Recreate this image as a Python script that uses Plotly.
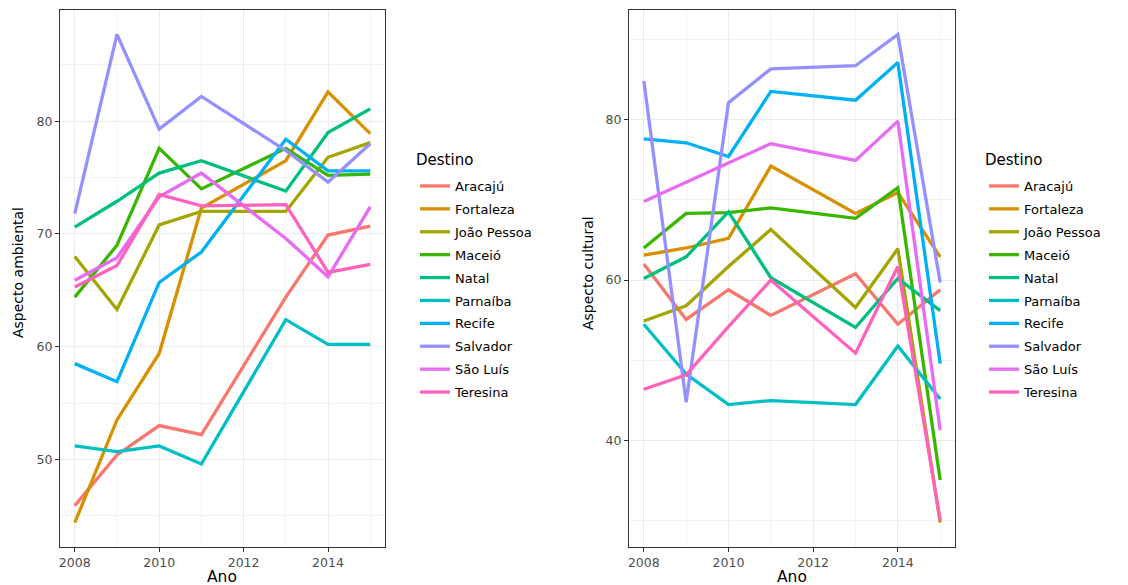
import plotly.graph_objects as go

years = [2008, 2009, 2010, 2011, 2013, 2014, 2015]
destinos = ["Aracajú", "Fortaleza", "João Pessoa", "Maceió", "Natal",
            "Parnaíba", "Recife", "Salvador", "São Luís", "Teresina"]
colors = ["#F8766D", "#D89000", "#A3A500", "#39B600", "#00BF7D",
          "#00BFC4", "#00B0F6", "#9590FF", "#E76BF3", "#FF62BC"]

ambiental_aracaju = [45.9, 50.4, 53.0, 52.2, 64.4, 69.9, 70.7]
ambiental_fortaleza = [44.4, 53.5, 59.4, 72.3, 76.5, 82.6, 78.9]
ambiental_joao_pessoa = [68.0, 63.3, 70.8, 72.0, 72.0, 76.8, 78.1]
ambiental_maceio = [64.4, 69.0, 77.6, 74.0, 77.6, 75.2, 75.3]
ambiental_natal = [70.6, 72.9, 75.4, 76.5, 73.8, 79.0, 81.1]
ambiental_parnaiba = [51.2, 50.7, 51.2, 49.6, 62.4, 60.2, 60.2]
ambiental_recife = [58.5, 56.9, 65.7, 68.4, 78.4, 75.6, 75.6]
ambiental_salvador = [71.8, 87.7, 79.3, 82.2, 77.4, 74.6, 78.0]
ambiental_sao_luis = [65.9, 67.9, 73.3, 75.4, 69.6, 66.2, 72.4]
ambiental_teresina = [65.3, 67.2, 73.5, 72.5, 72.6, 66.6, 67.3]

cultural_aracaju = [62.0, 55.1, 58.8, 55.6, 60.8, 54.5, 58.8]
cultural_fortaleza = [63.1, 64.0, 65.2, 74.2, 68.3, 70.9, 62.9]
cultural_joao_pessoa = [54.9, 56.8, 61.7, 66.3, 56.6, 63.9, 29.8]
cultural_maceio = [64.0, 68.3, 68.4, 69.0, 67.7, 71.5, 35.1]
cultural_natal = [60.2, 62.9, 68.5, 60.3, 54.1, 60.2, 56.2]
cultural_parnaiba = [54.5, 48.3, 44.5, 45.0, 44.5, 51.8, 45.2]
cultural_recife = [77.6, 77.1, 75.4, 83.5, 82.4, 87.1, 49.6]
cultural_salvador = [84.8, 44.8, 82.1, 86.3, 86.7, 90.6, 59.7]
cultural_sao_luis = [69.8, 72.2, 74.6, 77.0, 74.9, 79.8, 41.3]
cultural_teresina = [46.4, 48.2, 54.2, 60.0, 50.9, 61.7, 30.1]

ambiental = [ambiental_aracaju, ambiental_fortaleza, ambiental_joao_pessoa,
             ambiental_maceio, ambiental_natal, ambiental_parnaiba,
             ambiental_recife, ambiental_salvador, ambiental_sao_luis,
             ambiental_teresina]
cultural = [cultural_aracaju, cultural_fortaleza, cultural_joao_pessoa,
            cultural_maceio, cultural_natal, cultural_parnaiba,
            cultural_recife, cultural_salvador, cultural_sao_luis,
            cultural_teresina]

x_major = [2008, 2010, 2012, 2014]
x_minor = [2009, 2011, 2013, 2015]
amb_major = [50, 60, 70, 80]
amb_minor = [45, 55, 65, 75, 85]
cul_major = [40, 60, 80]
cul_minor = [30, 50, 70, 90]

W, H = 1128, 585
FONT = "DejaVu Sans, Liberation Sans, Arial, sans-serif"
LW = 3.3

fig = go.Figure()
for name, col, ya, yc in zip(destinos, colors, ambiental, cultural):
    fig.add_trace(go.Scatter(x=years, y=ya, mode="lines", name=name,
                             line=dict(color=col, width=LW),
                             xaxis="x", yaxis="y", legend="legend",
                             legendgroup="a_" + name))
    fig.add_trace(go.Scatter(x=years, y=yc, mode="lines", name=name,
                             line=dict(color=col, width=LW),
                             xaxis="x2", yaxis="y2", legend="legend2",
                             legendgroup="c_" + name))


def rng(series):
    lo = min(min(s) for s in series)
    hi = max(max(s) for s in series)
    pad = (hi - lo) * 0.05
    return [lo - pad, hi + pad]


span = years[-1] - years[0]
xr = [years[0] - span * 0.05, years[-1] + span * 0.05]


def px_x(p):
    return p / W


def px_y(p):
    return 1 - p / H


axis_style = dict(
    showline=True, mirror=True, linecolor="#333333", linewidth=1.2,
    showgrid=True, gridcolor="#EBEBEB", gridwidth=1,
    ticks="outside", ticklen=4, tickcolor="#333333", tickwidth=1,
    tickfont=dict(family=FONT, size=12.5, color="#4D4D4D"),
    zeroline=False, automargin=False,
)


def minor(vals):
    return dict(showgrid=True, gridcolor="#F3F3F3", gridwidth=0.6,
                tickvals=vals, ticks="")


def legend_cfg(xpx):
    return dict(x=px_x(xpx), y=px_y(171), xanchor="left", yanchor="top",
                font=dict(family=FONT, size=13, color="black"),
                traceorder="grouped", tracegroupgap=3, itemwidth=30,
                bgcolor="rgba(0,0,0,0)")


def label(text, xpx, ypx, size, angle=0, xanchor="center"):
    return dict(text=text, x=px_x(xpx), y=px_y(ypx), xref="paper", yref="paper",
                xanchor=xanchor, yanchor="middle", showarrow=False, textangle=angle,
                font=dict(family=FONT, size=size, color="black"))


ydom = [px_y(547), px_y(10)]
fig.update_layout(
    width=W, height=H,
    margin=dict(l=0, r=0, t=0, b=0),
    paper_bgcolor="white", plot_bgcolor="white",
    font=dict(family=FONT, color="black"),
    xaxis=dict(domain=[px_x(60), px_x(385)], range=xr, tickvals=x_major,
               minor=minor(x_minor), anchor="y", **axis_style),
    yaxis=dict(domain=ydom, range=rng(ambiental), tickvals=amb_major,
               minor=minor(amb_minor), anchor="x", **axis_style),
    xaxis2=dict(domain=[px_x(629), px_x(955)], range=xr, tickvals=x_major,
                minor=minor(x_minor), anchor="y2", **axis_style),
    yaxis2=dict(domain=ydom, range=rng(cultural), tickvals=cul_major,
                minor=minor(cul_minor), anchor="x2", **axis_style),
    legend=legend_cfg(415),
    legend2=legend_cfg(984),
    annotations=[
        label("Destino", 414, 160, 15, xanchor="left"),
        label("Destino", 983, 160, 15, xanchor="left"),
        label("Ano", 222, 577, 15.5),
        label("Ano", 792, 577, 15.5),
        label("Aspecto ambiental", 18, 273, 14, angle=-90),
        label("Aspecto cultural", 588, 273, 14, angle=-90),
    ],
)

fig.write_html("out.html", config={"displayModeBar": False},
               post_script="document.body.style.margin='0';document.body.style.padding='0';")
